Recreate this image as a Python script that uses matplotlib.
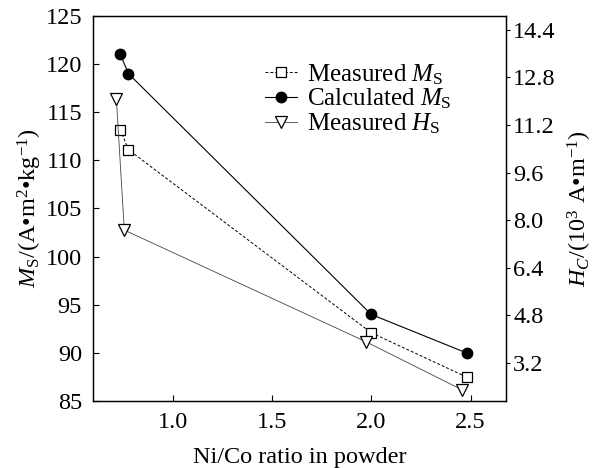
import matplotlib
matplotlib.use("Agg")
import matplotlib.pyplot as plt

# data
ratio_calc = [0.737, 0.778, 2.0, 2.48]
ms_calc = [121.0, 119.0, 94.0, 90.0]

ratio_meas = [0.737, 0.778, 2.0, 2.48]
ms_meas = [113.2, 111.1, 92.1, 87.5]

ratio_hc = [0.717, 0.757, 1.975, 2.457]
hc_meas = [12.07, 7.67, 3.91, 2.30]

plt.rcParams['font.family'] = ['Liberation Serif', 'DejaVu Serif']
plt.rcParams['mathtext.fontset'] = 'custom'
plt.rcParams['mathtext.rm'] = 'Liberation Serif'
plt.rcParams['mathtext.it'] = 'Liberation Serif:italic'
plt.rcParams['font.size'] = 17.5

fig = plt.figure(figsize=(5.97, 4.68), dpi=100)
ax = fig.add_axes([0.156, 0.143, 0.692, 0.823])
ax2 = ax.twinx()

l1, = ax.plot(ratio_meas, ms_meas, color='black', ls=(0, (3, 2)), lw=0.7,
              marker='s', ms=7, mfc='white', mec='black', mew=0.9)
l2, = ax.plot(ratio_calc, ms_calc, color='black', ls='-', lw=0.8,
              marker='o', ms=7.5, mfc='black', mec='black')
l3, = ax2.plot(ratio_hc, hc_meas, color='#444444', ls='-', lw=0.6,
               marker='v', ms=8.5, mfc='white', mec='black', mew=0.9)

ax.set_xlim(0.60, 2.68)
ax.set_ylim(85, 125)
ax2.set_ylim(1.92, 14.87)

ax.set_xticks([1.0, 1.5, 2.0, 2.5])
ax.set_xticklabels(['1.0', '1.5', '2.0', '2.5'])
ax.set_yticks(range(85, 126, 5))
ax2.set_yticks([3.2, 4.8, 6.4, 8.0, 9.6, 11.2, 12.8, 14.4])
ax2.set_yticklabels(['3.2', '4.8', '6.4', '8.0', '9.6', '11.2', '12.8', '14.4'])

ax.tick_params(axis='both', direction='in', length=4, width=0.8, pad=8)
ax.tick_params(axis='x', pad=8)
ax2.tick_params(axis='y', direction='out', length=3, width=0.8, pad=2)

for a in (ax, ax2):
    for s in a.spines.values():
        s.set_linewidth(0.9)

ax.set_xlabel('Ni/Co ratio in powder', labelpad=10)
ax.set_ylabel('$M_\\mathrm{S}$/(A\u2022m$^2$\u2022kg$^{-1}$)', labelpad=1)
ax2.set_ylabel('$H_C$/(10$^3$ A\u2022m$^{-1}$)', labelpad=7)

ax.legend([l1, l2, l3],
          [r'Measured $M_\mathrm{S}$', r'Calculated $M_\mathrm{S}$', r'Measured $H_\mathrm{S}$'],
          loc='upper left', bbox_to_anchor=(0.416, 0.88), frameon=False, fontsize=18,
          handlelength=1.3, handletextpad=0.4, labelspacing=0.0, borderpad=0.0,
          borderaxespad=0.0)

fig.savefig('out.png', dpi=100)
